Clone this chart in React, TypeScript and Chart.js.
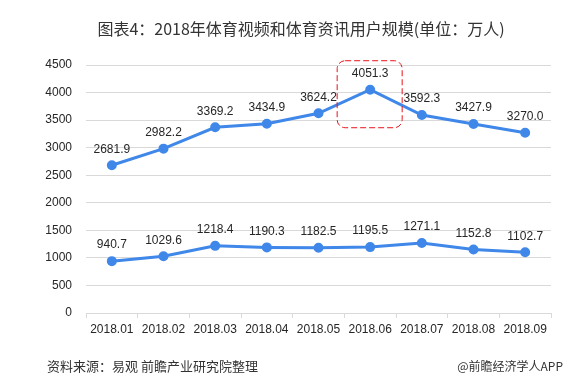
import React, { useEffect, useRef } from "react";
import { Chart, registerables } from "chart.js";

Chart.register(...registerables);

const categories = ["2018.01", "2018.02", "2018.03", "2018.04", "2018.05", "2018.06", "2018.07", "2018.08", "2018.09"];
const videoUsers = [2681.9, 2982.2, 3369.2, 3434.9, 3624.2, 4051.3, 3592.3, 3427.9, 3270.0];
const newsUsers = [940.7, 1029.6, 1218.4, 1190.3, 1182.5, 1195.5, 1271.1, 1152.8, 1102.7];
const yTicks = [0, 500, 1000, 1500, 2000, 2500, 3000, 3500, 4000, 4500];
const titleText = "图表4：2018年体育视频和体育资讯用户规模(单位：万人)";
const sourceText = "资料来源：易观 前瞻产业研究院整理";
const brandText = "@前瞻经济学人APP";
const highlightIndex = 5;

const FONT = '"Liberation Sans", "Noto Sans CJK SC", sans-serif';
const CJK = '"Noto Sans CJK SC", "Liberation Sans", sans-serif';
const BLUE = "#3F87E8";

export default function App() {
  const ref = useRef<HTMLCanvasElement | null>(null);

  useEffect(() => {
    document.body.style.margin = "0";
    const canvas = ref.current!;
    const overlay = {
      id: "overlay",
      afterDatasetsDraw(chart: any) {
        const ctx = chart.ctx;
        ctx.save();
        ctx.fillStyle = "#262626";
        ctx.font = `12px ${FONT}`;
        ctx.textAlign = "center";
        ctx.textBaseline = "middle";
        chart.data.datasets.forEach((ds: any, di: number) => {
          const meta = chart.getDatasetMeta(di);
          meta.data.forEach((pt: any, i: number) => {
            ctx.fillText(ds.data[i].toFixed(1), pt.x, pt.y - 16);
          });
        });
        // highlight box
        const pt = chart.getDatasetMeta(0).data[highlightIndex];
        const x0 = pt.x - 33, x1 = pt.x + 32;
        const y0 = pt.y - 29, y1 = pt.y + 38;
        ctx.strokeStyle = "#E8141B";
        ctx.lineWidth = 1;
        ctx.setLineDash([6, 3]);
        ctx.beginPath();
        (ctx as any).roundRect(x0, y0, x1 - x0, y1 - y0, 8);
        ctx.stroke();
        ctx.setLineDash([]);
        // title
        ctx.fillStyle = "#333333";
        ctx.font = `16px ${CJK}`;
        ctx.fillText(titleText, 301, 29);
        // footer
        ctx.font = `13px ${CJK}`;
        ctx.textAlign = "left";
        ctx.fillStyle = "#333333";
        ctx.fillText(sourceText, 47, 366);
        ctx.textAlign = "right";
        ctx.font = `12px ${CJK}`;
        ctx.fillText(brandText, 563, 366);
        ctx.restore();
      },
    };

    const chart = new Chart(canvas, {
      type: "line",
      data: {
        labels: categories,
        datasets: [
          {
            data: videoUsers,
            borderColor: BLUE,
            backgroundColor: BLUE,
            borderWidth: 3,
            pointRadius: 3.5,
            pointBackgroundColor: BLUE,
            pointBorderColor: BLUE,
            tension: 0,
          },
          {
            data: newsUsers,
            borderColor: BLUE,
            backgroundColor: BLUE,
            borderWidth: 3,
            pointRadius: 3.5,
            pointBackgroundColor: BLUE,
            pointBorderColor: BLUE,
            tension: 0,
          },
        ],
      },
      options: {
        responsive: false,
        animation: false,
        layout: { padding: { top: 65, right: 35, left: 0, bottom: 0 } },
        plugins: { legend: { display: false }, tooltip: { enabled: false }, title: { display: false } },
        scales: {
          x: {
            offset: true,
            grid: {
              offset: true,
              drawOnChartArea: false,
              drawTicks: true,
              tickLength: 5,
              color: "#d9d9d9",
            },
            border: { color: "#d9d9d9" },
            ticks: { color: "#262626", font: { size: 12, family: FONT }, padding: 4, maxRotation: 0 },
            afterFit(scale: any) {
              scale.height = 72;
            },
          },
          y: {
            min: 0,
            max: 4500,
            afterBuildTicks(scale: any) {
              scale.ticks = yTicks.map((v) => ({ value: v }));
            },
            grid: { color: "#d9d9d9", drawTicks: false },
            border: { display: false },
            ticks: {
              color: "#262626",
              font: { size: 12, family: FONT },
              padding: 14,
              callback: (v: any) => String(v),
            },
            afterFit(scale: any) {
              scale.width = 86;
            },
          },
        },
      },
      plugins: [overlay],
    });
    return () => chart.destroy();
  }, []);

  return (
    <div style={{ position: "absolute", left: 0, top: 0, width: 586, height: 385, background: "#fff" }}>
      <canvas ref={ref} width={586} height={385} />
    </div>
  );
}
